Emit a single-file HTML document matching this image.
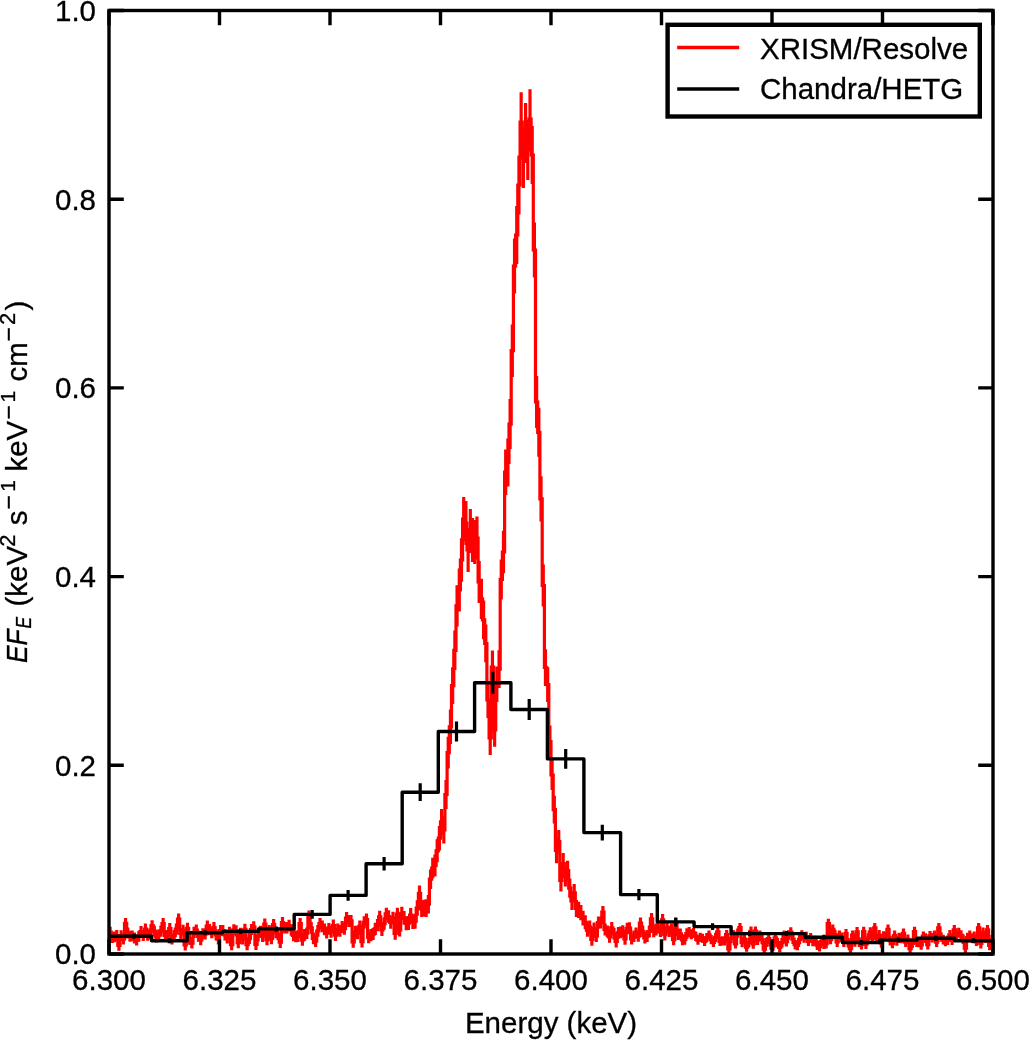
<!DOCTYPE html>
<html><head><meta charset="utf-8"><style>
html,body{margin:0;padding:0;background:#fff;width:1029px;height:1040px;overflow:hidden}
svg{display:block}
svg{font-family:"Liberation Sans",Arial,Helvetica,sans-serif;font-size:29.5px}
text{fill:#000;stroke:#000;stroke-width:0.3px}
</style></head><body>
<svg width="1029" height="1040" viewBox="0 0 1029 1040">
<defs><clipPath id="c"><rect x="109.0" y="10.5" width="884.0" height="943.5"/></clipPath></defs>
<g clip-path="url(#c)">
<polyline fill="none" stroke="#ff0000" stroke-width="3.2" stroke-linejoin="miter" points="104.6,923.6 106.8,923.6 106.8,945.3 109.0,945.3 109.0,932.2 111.2,932.2 111.2,937.5 113.4,937.5 113.4,936.9 115.6,936.9 115.6,935.6 117.8,935.6 117.8,945.3 120.0,945.3 120.0,935.6 122.3,935.6 122.3,939.1 124.5,939.1 124.5,923.4 126.7,923.4 126.7,933.1 128.9,933.1 128.9,936.2 131.1,936.2 131.1,935.8 133.3,935.8 133.3,937.9 135.5,937.9 135.5,940.0 137.7,940.0 137.7,936.4 139.9,936.4 139.9,931.6 142.1,931.6 142.1,935.5 144.4,935.5 144.4,929.0 146.6,929.0 146.6,935.3 148.8,935.3 148.8,934.0 151.0,934.0 151.0,925.7 153.2,925.7 153.2,931.2 155.4,931.2 155.4,936.9 157.6,936.9 157.6,935.1 159.8,935.1 159.8,931.1 162.0,931.1 162.0,923.5 164.2,923.5 164.2,935.5 166.5,935.5 166.5,935.4 168.7,935.4 168.7,928.5 170.9,928.5 170.9,938.9 173.1,938.9 173.1,935.6 175.3,935.6 175.3,929.1 177.5,929.1 177.5,919.0 179.7,919.0 179.7,933.5 181.9,933.5 181.9,930.3 184.1,930.3 184.1,944.9 186.3,944.9 186.3,928.3 188.6,928.3 188.6,939.2 190.8,939.2 190.8,943.1 193.0,943.1 193.0,932.3 195.2,932.3 195.2,930.0 197.4,930.0 197.4,936.3 199.6,936.3 199.6,939.8 201.8,939.8 201.8,933.7 204.0,933.7 204.0,934.1 206.2,934.1 206.2,926.0 208.4,926.0 208.4,929.6 210.7,929.6 210.7,932.7 212.9,932.7 212.9,927.6 215.1,927.6 215.1,934.9 217.3,934.9 217.3,938.8 219.5,938.8 219.5,930.5 221.7,930.5 221.7,930.5 223.9,930.5 223.9,934.9 226.1,934.9 226.1,938.0 228.3,938.0 228.3,932.4 230.5,932.4 230.5,944.7 232.8,944.7 232.8,929.8 235.0,929.8 235.0,930.9 237.2,930.9 237.2,942.7 239.4,942.7 239.4,933.2 241.6,933.2 241.6,938.9 243.8,938.9 243.8,929.3 246.0,929.3 246.0,944.6 248.2,944.6 248.2,938.6 250.4,938.6 250.4,929.5 252.6,929.5 252.6,926.9 254.9,926.9 254.9,944.4 257.1,944.4 257.1,936.0 259.3,936.0 259.3,931.3 261.5,931.3 261.5,936.4 263.7,936.4 263.7,924.0 265.9,924.0 265.9,939.6 268.1,939.6 268.1,930.8 270.3,930.8 270.3,938.6 272.5,938.6 272.5,924.6 274.7,924.6 274.7,932.7 277.0,932.7 277.0,934.6 279.2,934.6 279.2,942.2 281.4,942.2 281.4,922.7 283.6,922.7 283.6,927.9 285.8,927.9 285.8,927.8 288.0,927.8 288.0,925.5 290.2,925.5 290.2,929.9 292.4,929.9 292.4,935.5 294.6,935.5 294.6,936.4 296.8,936.4 296.8,936.3 299.1,936.3 299.1,923.7 301.3,923.7 301.3,940.0 303.5,940.0 303.5,934.9 305.7,934.9 305.7,933.2 307.9,933.2 307.9,916.4 310.1,916.4 310.1,927.8 312.3,927.8 312.3,938.4 314.5,938.4 314.5,941.2 316.7,941.2 316.7,931.0 318.9,931.0 318.9,923.7 321.2,923.7 321.2,926.3 323.4,926.3 323.4,929.4 325.6,929.4 325.6,932.5 327.8,932.5 327.8,928.8 330.0,928.8 330.0,931.9 332.2,931.9 332.2,925.6 334.4,925.6 334.4,935.1 336.6,935.1 336.6,929.5 338.8,929.5 338.8,930.9 341.0,930.9 341.0,926.9 343.3,926.9 343.3,928.7 345.5,928.7 345.5,918.0 347.7,918.0 347.7,921.0 349.9,921.0 349.9,920.9 352.1,920.9 352.1,941.8 354.3,941.8 354.3,931.8 356.5,931.8 356.5,933.3 358.7,933.3 358.7,926.4 360.9,926.4 360.9,941.6 363.1,941.6 363.1,922.4 365.4,922.4 365.4,919.5 367.6,919.5 367.6,937.2 369.8,937.2 369.8,935.2 372.0,935.2 372.0,934.1 374.2,934.1 374.2,928.9 376.4,928.9 376.4,925.2 378.6,925.2 378.6,916.8 380.8,916.8 380.8,929.9 383.0,929.9 383.0,923.6 385.2,923.6 385.2,913.9 387.5,913.9 387.5,916.6 389.7,916.6 389.7,922.5 391.9,922.5 391.9,918.2 394.1,918.2 394.1,933.3 396.3,933.3 396.3,914.2 398.5,914.2 398.5,929.8 400.7,929.8 400.7,913.4 402.9,913.4 402.9,917.8 405.1,917.8 405.1,923.3 407.3,923.3 407.3,923.1 409.6,923.1 409.6,915.1 411.8,915.1 411.8,921.7 414.0,921.7 414.0,921.2 416.2,921.2 416.2,908.0 418.4,908.0 418.4,893.4 420.6,893.4 420.6,908.8 422.8,908.8 422.8,908.1 425.0,908.1 425.0,908.1 427.2,908.1 427.2,904.2 429.4,904.2 429.4,879.2 431.7,879.2 431.7,868.0 433.9,868.0 433.9,865.5 436.1,865.5 436.1,850.8 438.3,850.8 438.3,838.2 440.5,838.2 440.5,821.9 442.7,821.9 442.7,830.0 444.9,830.0 444.9,794.5 447.1,794.5 447.1,752.6 449.3,752.6 449.3,726.8 451.5,726.8 451.5,685.7 453.8,685.7 453.8,650.3 456.0,650.3 456.0,605.8 458.2,605.8 458.2,590.0 460.4,590.0 460.4,560.0 462.6,560.0 462.6,519.0 464.8,519.0 464.8,523.0 467.0,523.0 467.0,550.0 469.2,550.0 469.2,531.0 471.4,531.0 471.4,540.0 473.6,540.0 473.6,542.0 475.9,542.0 475.9,538.0 478.1,538.0 478.1,582.0 480.3,582.0 480.3,598.9 482.5,598.9 482.5,619.9 484.7,619.9 484.7,643.5 486.9,643.5 486.9,700.0 489.1,700.0 489.1,738.0 491.3,738.0 491.3,667.0 493.5,667.0 493.5,730.0 495.7,730.0 495.7,684.1 498.0,684.1 498.0,669.2 500.2,669.2 500.2,579.4 502.4,579.4 502.4,552.0 504.6,552.0 504.6,472.2 506.8,472.2 506.8,462.5 509.0,462.5 509.0,424.1 511.2,424.1 511.2,350.6 513.4,350.6 513.4,266.0 515.6,266.0 515.6,235.0 517.8,235.0 517.8,185.0 520.1,185.0 520.1,122.0 522.3,122.0 522.3,158.0 524.5,158.0 524.5,133.0 526.7,133.0 526.7,150.0 528.9,150.0 528.9,119.0 531.1,119.0 531.1,155.0 533.3,155.0 533.3,250.0 535.5,250.0 535.5,402.0 537.7,402.0 537.7,432.3 539.9,432.3 539.9,498.9 542.2,498.9 542.2,585.5 544.4,585.5 544.4,667.5 546.6,667.5 546.6,684.6 548.8,684.6 548.8,741.6 551.0,741.6 551.0,775.0 553.2,775.0 553.2,809.6 555.4,809.6 555.4,850.5 557.6,850.5 557.6,841.7 559.8,841.7 559.8,880.3 562.0,880.3 562.0,863.5 564.3,863.5 564.3,876.3 566.5,876.3 566.5,870.7 568.7,870.7 568.7,888.2 570.9,888.2 570.9,900.8 573.1,900.8 573.1,892.8 575.3,892.8 575.3,908.5 577.5,908.5 577.5,909.8 579.7,909.8 579.7,912.7 581.9,912.7 581.9,918.1 584.1,918.1 584.1,922.3 586.4,922.3 586.4,930.2 588.6,930.2 588.6,927.1 590.8,927.1 590.8,939.4 593.0,939.4 593.0,928.6 595.2,928.6 595.2,935.9 597.4,935.9 597.4,922.6 599.6,922.6 599.6,922.5 601.8,922.5 601.8,912.0 604.0,912.0 604.0,929.5 606.2,929.5 606.2,931.3 608.5,931.3 608.5,936.9 610.7,936.9 610.7,927.8 612.9,927.8 612.9,933.8 615.1,933.8 615.1,941.5 617.3,941.5 617.3,932.9 619.5,932.9 619.5,932.4 621.7,932.4 621.7,931.1 623.9,931.1 623.9,939.0 626.1,939.0 626.1,928.5 628.3,928.5 628.3,928.0 630.6,928.0 630.6,938.9 632.8,938.9 632.8,936.3 635.0,936.3 635.0,933.2 637.2,933.2 637.2,936.1 639.4,936.1 639.4,923.1 641.6,923.1 641.6,931.3 643.8,931.3 643.8,937.8 646.0,937.8 646.0,936.1 648.2,936.1 648.2,931.5 650.4,931.5 650.4,918.9 652.7,918.9 652.7,931.3 654.9,931.3 654.9,929.4 657.1,929.4 657.1,927.5 659.3,927.5 659.3,931.1 661.5,931.1 661.5,919.8 663.7,919.8 663.7,934.6 665.9,934.6 665.9,927.6 668.1,927.6 668.1,931.4 670.3,931.4 670.3,929.1 672.5,929.1 672.5,939.6 674.8,939.6 674.8,923.5 677.0,923.5 677.0,934.4 679.2,934.4 679.2,933.9 681.4,933.9 681.4,939.9 683.6,939.9 683.6,939.5 685.8,939.5 685.8,933.5 688.0,933.5 688.0,932.2 690.2,932.2 690.2,934.2 692.4,934.2 692.4,932.9 694.6,932.9 694.6,936.1 696.9,936.1 696.9,940.2 699.1,940.2 699.1,937.2 701.3,937.2 701.3,938.3 703.5,938.3 703.5,941.3 705.7,941.3 705.7,937.5 707.9,937.5 707.9,934.9 710.1,934.9 710.1,939.7 712.3,939.7 712.3,942.3 714.5,942.3 714.5,937.3 716.7,937.3 716.7,931.9 719.0,931.9 719.0,941.5 721.2,941.5 721.2,940.9 723.4,940.9 723.4,941.0 725.6,941.0 725.6,934.7 727.8,934.7 727.8,948.8 730.0,948.8 730.0,938.5 732.2,938.5 732.2,934.6 734.4,934.6 734.4,943.9 736.6,943.9 736.6,933.1 738.8,933.1 738.8,927.7 741.1,927.7 741.1,942.5 743.3,942.5 743.3,939.0 745.5,939.0 745.5,947.1 747.7,947.1 747.7,942.5 749.9,942.5 749.9,931.3 752.1,931.3 752.1,944.0 754.3,944.0 754.3,931.1 756.5,931.1 756.5,940.2 758.7,940.2 758.7,935.1 760.9,935.1 760.9,939.5 763.2,939.5 763.2,949.1 765.4,949.1 765.4,942.4 767.6,942.4 767.6,938.7 769.8,938.7 769.8,945.0 772.0,945.0 772.0,946.0 774.2,946.0 774.2,937.8 776.4,937.8 776.4,942.6 778.6,942.6 778.6,947.5 780.8,947.5 780.8,942.7 783.0,942.7 783.0,935.4 785.3,935.4 785.3,941.7 787.5,941.7 787.5,934.9 789.7,934.9 789.7,932.1 791.9,932.1 791.9,939.2 794.1,939.2 794.1,944.7 796.3,944.7 796.3,945.5 798.5,945.5 798.5,939.4 800.7,939.4 800.7,935.0 802.9,935.0 802.9,937.9 805.1,937.9 805.1,936.6 807.4,936.6 807.4,941.3 809.6,941.3 809.6,937.7 811.8,937.7 811.8,941.4 814.0,941.4 814.0,940.6 816.2,940.6 816.2,945.2 818.4,945.2 818.4,946.6 820.6,946.6 820.6,941.3 822.8,941.3 822.8,944.3 825.0,944.3 825.0,943.6 827.2,943.6 827.2,923.5 829.5,923.5 829.5,939.5 831.7,939.5 831.7,929.4 833.9,929.4 833.9,934.5 836.1,934.5 836.1,942.0 838.3,942.0 838.3,935.3 840.5,935.3 840.5,937.3 842.7,937.3 842.7,942.3 844.9,942.3 844.9,933.7 847.1,933.7 847.1,942.7 849.3,942.7 849.3,948.6 851.6,948.6 851.6,935.2 853.8,935.2 853.8,942.0 856.0,942.0 856.0,931.8 858.2,931.8 858.2,942.1 860.4,942.1 860.4,944.7 862.6,944.7 862.6,931.5 864.8,931.5 864.8,944.2 867.0,944.2 867.0,938.0 869.2,938.0 869.2,932.0 871.4,932.0 871.4,938.4 873.7,938.4 873.7,927.8 875.9,927.8 875.9,938.5 878.1,938.5 878.1,935.0 880.3,935.0 880.3,942.9 882.5,942.9 882.5,936.1 884.7,936.1 884.7,936.2 886.9,936.2 886.9,929.4 889.1,929.4 889.1,940.6 891.3,940.6 891.3,943.4 893.5,943.4 893.5,935.5 895.8,935.5 895.8,940.9 898.0,940.9 898.0,937.6 900.2,937.6 900.2,938.4 902.4,938.4 902.4,933.4 904.6,933.4 904.6,942.2 906.8,942.2 906.8,939.4 909.0,939.4 909.0,948.6 911.2,948.6 911.2,943.3 913.4,943.3 913.4,931.6 915.6,931.6 915.6,942.3 917.9,942.3 917.9,942.4 920.1,942.4 920.1,944.9 922.3,944.9 922.3,936.2 924.5,936.2 924.5,938.1 926.7,938.1 926.7,944.7 928.9,944.7 928.9,935.8 931.1,935.8 931.1,937.7 933.3,937.7 933.3,935.4 935.5,935.4 935.5,942.1 937.7,942.1 937.7,927.8 940.0,927.8 940.0,937.0 942.2,937.0 942.2,939.6 944.4,939.6 944.4,941.5 946.6,941.5 946.6,940.2 948.8,940.2 948.8,934.9 951.0,934.9 951.0,940.3 953.2,940.3 953.2,929.8 955.4,929.8 955.4,936.2 957.6,936.2 957.6,932.5 959.8,932.5 959.8,935.1 962.1,935.1 962.1,939.3 964.3,939.3 964.3,948.2 966.5,948.2 966.5,937.6 968.7,937.6 968.7,935.2 970.9,935.2 970.9,938.2 973.1,938.2 973.1,936.3 975.3,936.3 975.3,941.3 977.5,941.3 977.5,927.8 979.7,927.8 979.7,943.5 981.9,943.5 981.9,932.4 984.2,932.4 984.2,938.2 986.4,938.2 986.4,929.8 988.6,929.8 988.6,945.4 990.8,945.4 990.8,939.7 993.0,939.7 993.0,932.1 995.2,932.1 995.2,936.8 997.4,936.8"/>
<path fill="none" stroke="#ff0000" stroke-width="3.2" d="M105.68,918.2V929.0M107.89,939.9V950.8M110.10,926.7V937.6M112.31,932.1V943.0M114.52,931.4V942.3M116.73,930.1V941.0M118.94,939.8V950.7M121.15,930.2V941.1M123.36,933.6V944.5M125.57,918.0V928.9M127.78,927.6V938.5M129.99,930.8V941.7M132.20,930.4V941.3M134.41,932.5V943.4M136.62,934.6V945.5M138.83,930.9V941.8M141.04,926.1V937.1M143.25,930.0V941.0M145.46,923.5V934.4M147.67,929.8V940.7M149.88,928.6V939.5M152.09,920.2V931.2M154.30,925.7V936.6M156.51,931.4V942.4M158.72,929.6V940.6M160.93,925.6V936.6M163.14,918.0V928.9M165.35,930.1V941.0M167.56,929.9V940.9M169.77,923.0V934.0M171.98,933.4V944.4M174.19,930.1V941.1M176.40,923.6V934.6M178.61,913.5V924.5M180.82,928.0V939.0M183.03,924.8V935.8M185.24,939.4V950.4M187.45,922.8V933.8M189.66,933.7V944.7M191.87,937.6V948.6M194.08,926.8V937.9M196.29,924.5V935.5M198.50,930.8V941.8M200.71,934.3V945.3M202.92,928.2V939.2M205.13,928.6V939.6M207.34,920.5V931.5M209.55,924.1V935.2M211.76,927.2V938.2M213.97,922.1V933.1M216.18,929.3V940.4M218.39,933.3V944.4M220.60,924.9V936.0M222.81,924.9V936.0M225.02,929.3V940.4M227.23,932.4V943.5M229.44,926.8V937.9M231.65,939.2V950.3M233.86,924.2V935.3M236.07,925.3V936.4M238.28,937.1V948.2M240.49,927.7V938.8M242.70,933.3V944.5M244.91,923.8V934.9M247.12,939.1V950.2M249.33,933.0V944.1M251.54,923.9V935.1M253.75,921.3V932.5M255.96,938.9V950.0M258.17,930.4V941.6M260.38,925.7V936.9M262.59,930.8V942.1M264.80,918.4V929.6M267.01,933.9V945.2M269.22,925.1V936.4M271.43,933.0V944.3M273.64,919.0V930.3M275.85,927.0V938.3M278.06,928.9V940.3M280.27,936.5V947.9M282.48,917.0V928.4M284.69,922.2V933.6M286.90,922.1V933.5M289.11,919.8V931.2M291.32,924.2V935.7M293.53,929.8V941.3M295.74,930.6V942.2M297.95,930.5V942.1M300.16,917.9V929.5M302.37,934.2V945.8M304.58,929.1V940.7M306.79,927.4V939.1M309.00,910.6V922.3M311.21,922.0V933.7M313.42,932.6V944.3M315.63,935.3V947.0M317.84,925.1V936.8M320.05,917.9V929.6M322.26,920.4V932.2M324.47,923.5V935.3M326.68,926.6V938.4M328.89,922.9V934.7M331.10,926.0V937.8M333.31,919.6V931.5M335.52,929.1V941.0M337.73,923.5V935.4M339.94,924.9V936.8M342.15,920.9V932.9M344.36,922.8V934.7M346.57,912.1V924.0M348.78,915.0V927.0M350.99,914.9V926.9M353.20,935.8V947.8M355.41,925.8V937.8M357.62,927.3V939.3M359.83,920.4V932.4M362.04,935.6V947.6M364.25,916.3V928.4M366.46,913.5V925.6M368.67,931.2V943.3M370.88,929.1V941.3M373.09,928.0V940.1M375.30,922.8V935.0M377.51,919.1V931.3M379.72,910.7V922.9M381.93,923.8V936.0M384.14,917.4V929.7M386.35,907.7V920.1M388.56,910.3V922.8M390.77,916.3V928.8M392.98,911.8V924.5M395.19,926.9V939.7M397.40,907.7V920.7M399.61,923.2V936.4M401.82,906.7V920.1M404.03,911.0V924.6M406.24,916.5V930.2M408.45,916.1V930.1M410.66,908.0V922.3M412.87,914.4V929.1M415.08,913.7V928.8M417.29,900.3V915.8M419.50,885.4V901.3M421.71,900.6V917.0M423.92,899.7V916.5M426.13,899.3V917.0M428.34,894.9V913.4M430.55,869.4V888.9M432.76,857.7V878.2M434.97,854.6V876.4M437.18,839.3V862.2M439.39,826.0V850.5M441.60,808.9V834.9M443.81,816.3V843.6M446.02,779.9V809.0M448.23,736.7V768.4M450.44,709.6V744.1M452.65,667.3V704.1M454.86,630.6V669.9M457.07,585.2V626.5M459.28,568.6V611.4M461.49,538.2V581.8M463.70,496.9V541.1M465.91,500.9V545.1M468.12,527.9V572.1M470.33,508.9V553.1M472.54,518.0V562.0M474.75,520.1V563.9M476.96,516.4V559.6M479.17,561.1V602.9M481.38,578.7V619.1M483.59,600.4V639.3M485.80,624.6V662.3M488.01,681.9V718.1M490.22,721.0V755.0M492.43,650.5V683.5M494.64,713.2V746.8M496.85,666.4V701.9M499.06,650.2V688.1M501.27,559.4V599.5M503.48,530.7V573.3M505.69,449.5V494.9M507.90,438.6V486.5M510.11,399.1V449.1M512.32,324.4V376.9M514.53,238.5V293.6M516.74,206.0V264.0M518.95,155.4V214.6M521.16,92.2V151.8M523.37,128.1V187.9M525.58,103.0V163.0M527.79,120.1V179.9M530.00,89.2V148.8M532.21,126.0V184.0M534.42,222.6V277.4M536.63,376.1V427.9M538.84,407.7V456.8M541.05,476.3V521.5M543.26,564.6V606.4M545.47,649.2V685.9M547.68,667.3V701.9M549.89,725.4V757.7M552.10,760.0V789.9M554.31,795.8V823.5M556.52,837.8V863.2M558.73,830.0V853.4M560.94,869.1V891.4M563.15,852.9V874.1M565.36,866.0V886.5M567.57,860.7V880.6M569.78,878.6V897.7M571.99,891.6V910.0M574.20,884.0V901.5M576.41,900.1V916.9M578.62,901.8V917.9M580.83,905.0V920.3M583.04,910.8V925.4M585.25,915.3V929.2M587.46,923.7V936.8M589.67,920.6V933.5M591.88,933.1V945.7M594.09,922.4V934.8M596.30,929.7V942.0M598.51,916.6V928.7M600.72,916.5V928.4M602.93,906.0V917.9M605.14,923.6V935.5M607.35,925.4V937.2M609.56,931.0V942.8M611.77,921.9V933.6M613.98,927.9V939.6M616.19,935.7V947.4M618.40,927.1V938.7M620.61,926.6V938.2M622.82,925.3V936.9M625.03,933.2V944.7M627.24,922.8V934.2M629.45,922.3V933.7M631.66,933.2V944.6M633.87,930.6V942.0M636.08,927.5V938.8M638.29,930.4V941.7M640.50,917.4V928.7M642.71,925.6V937.0M644.92,932.1V943.6M647.13,930.3V941.9M649.34,925.6V937.3M651.55,913.0V924.8M653.76,925.4V937.3M655.97,923.4V935.4M658.18,921.5V933.4M660.39,925.2V937.0M662.60,914.0V925.7M664.81,928.9V940.4M667.02,921.9V933.4M669.23,925.7V937.1M671.44,923.4V934.8M673.65,934.0V945.2M675.86,917.9V929.1M678.07,928.8V939.9M680.28,928.4V939.4M682.49,934.5V945.3M684.70,934.2V944.8M686.91,928.3V938.7M689.12,927.1V937.3M691.33,929.3V939.2M693.54,928.0V937.7M695.75,931.4V940.9M697.96,935.5V944.8M700.17,932.7V941.7M702.38,933.7V942.8M704.59,936.8V945.9M706.80,933.0V942.1M709.01,930.4V939.5M711.22,935.1V944.2M713.43,937.7V946.9M715.64,932.8V941.9M717.85,927.3V936.4M720.06,936.9V946.1M722.27,936.3V945.5M724.48,936.4V945.6M726.69,930.1V939.3M728.90,944.1V953.4M731.11,933.9V943.2M733.32,930.0V939.3M735.53,939.2V948.5M737.74,928.5V937.8M739.95,923.0V932.3M742.16,937.9V947.2M744.37,934.3V943.7M746.58,942.4V951.8M748.79,937.9V947.2M751.00,926.6V936.0M753.21,939.3V948.7M755.42,926.5V935.8M757.63,935.5V944.9M759.84,930.4V939.8M762.05,934.8V944.2M764.26,944.4V953.8M766.47,937.7V947.1M768.68,934.0V943.5M770.89,940.3V949.8M773.10,941.2V950.7M775.31,933.1V942.6M777.52,937.9V947.3M779.73,942.8V952.3M781.94,938.0V947.5M784.15,930.6V940.1M786.36,936.9V946.4M788.57,930.2V939.7M790.78,927.3V936.9M792.99,934.4V943.9M795.20,939.9V949.5M797.41,940.7V950.3M799.62,934.6V944.2M801.83,930.2V939.8M804.04,933.1V942.7M806.25,931.8V941.3M808.46,936.5V946.1M810.67,932.9V942.5M812.88,936.6V946.2M815.09,935.8V945.4M817.30,940.4V950.1M819.51,941.8V951.4M821.72,936.5V946.1M823.93,939.5V949.1M826.14,938.8V948.4M828.35,918.7V928.3M830.56,934.7V944.3M832.77,924.6V934.2M834.98,929.7V939.4M837.19,937.2V946.9M839.40,930.4V940.1M841.61,932.5V942.1M843.82,937.5V947.1M846.03,928.9V938.5M848.24,937.9V947.5M850.45,943.8V953.4M852.66,930.4V940.0M854.87,937.2V946.8M857.08,927.0V936.7M859.29,937.3V946.9M861.50,939.9V949.5M863.71,926.7V936.4M865.92,939.4V949.0M868.13,933.2V942.8M870.34,927.2V936.8M872.55,933.6V943.3M874.76,923.0V932.6M876.97,933.7V943.3M879.18,930.1V939.8M881.39,938.1V947.7M883.60,931.2V940.9M885.81,931.4V941.0M888.02,924.6V934.2M890.23,935.8V945.4M892.44,938.6V948.2M894.65,930.6V940.3M896.86,936.1V945.7M899.07,932.8V942.4M901.28,933.5V943.2M903.49,928.6V938.2M905.70,937.3V947.0M907.91,934.6V944.3M910.12,943.8V953.4M912.33,938.5V948.1M914.54,926.8V936.4M916.75,937.5V947.1M918.96,937.6V947.2M921.17,940.0V949.7M923.38,931.4V941.0M925.59,933.3V943.0M927.80,939.9V949.5M930.01,931.0V940.6M932.22,932.9V942.6M934.43,930.6V940.2M936.64,937.3V946.9M938.85,923.0V932.6M941.06,932.2V941.8M943.27,934.7V944.4M945.48,936.7V946.3M947.69,935.4V945.0M949.90,930.1V939.7M952.11,935.5V945.1M954.32,925.0V934.6M956.53,931.4V941.0M958.74,927.7V937.3M960.95,930.3V939.9M963.16,934.5V944.1M965.37,943.4V953.0M967.58,932.7V942.4M969.79,930.4V940.0M972.00,933.4V943.0M974.21,931.5V941.1M976.42,936.5V946.1M978.63,923.0V932.6M980.84,938.7V948.4M983.05,927.6V937.3M985.26,933.4V943.1M987.47,925.0V934.6M989.68,940.6V950.2M991.89,934.9V944.6M994.10,927.2V936.9M996.31,932.0V941.6"/>
<path fill="none" stroke="#000" stroke-width="3.4" stroke-linejoin="round" d="M107.0,936.2L116.1,936.2L116.1,936.2L151.6,936.2L151.6,940.8L187.1,940.8L187.1,932.7L222.7,932.7L222.7,931.4L258.4,931.4L258.4,928.9L294.2,928.9L294.2,914.4L330.1,914.4L330.1,895.4L366.1,895.4L366.1,863.7L402.2,863.7L402.2,792.2L438.3,792.2L438.3,731.5L474.6,731.5L474.6,682.8L510.9,682.8L510.9,709.5L547.4,709.5L547.4,758.9L583.9,758.9L583.9,832.6L620.6,832.6L620.6,894.6L657.3,894.6L657.3,921.9L694.1,921.9L694.1,926.6L731.1,926.6L731.1,933.6L768.1,933.6L768.1,933.6L805.2,933.6L805.2,937.3L842.4,937.3L842.4,942.5L879.7,942.5L879.7,940.1L917.1,940.1L917.1,938.3L954.6,938.3L954.6,940.8L992.2,940.8L992.2,940.8L995.0,940.8"/>
<path fill="none" stroke="#000" stroke-width="3.2" d="M312.2,910.1V918.7M348.1,890.1V900.7M384.1,857.0V870.4M420.2,783.3V801.1M456.5,721.4V741.6M492.8,671.8V693.8M529.2,699.0V720.0M565.7,749.0V768.8M602.3,824.8V840.4M638.9,888.9V900.3M675.7,917.4V926.4M712.6,923.3V929.9M749.6,931.1V936.1M786.6,931.1V936.1M823.8,934.8V939.8M861.1,940.0V945.0M898.4,937.6V942.6M935.9,935.8V940.8M973.4,938.3V943.3M133.8,933.7V938.7M169.3,938.3V943.3M204.9,930.2V935.2M240.6,928.9V933.9M276.3,926.4V931.4"/>
</g>
<rect x="109.0" y="10.5" width="884.0" height="943.5" fill="none" stroke="#000" stroke-width="3.4"/>
<path fill="none" stroke="#000" stroke-width="3.4" d="M109.00,954.00V939.20M109.00,10.50V25.30M219.50,954.00V939.20M219.50,10.50V25.30M330.00,954.00V939.20M330.00,10.50V25.30M440.50,954.00V939.20M440.50,10.50V25.30M551.00,954.00V939.20M551.00,10.50V25.30M661.50,954.00V939.20M661.50,10.50V25.30M772.00,954.00V939.20M772.00,10.50V25.30M882.50,954.00V939.20M882.50,10.50V25.30M993.00,954.00V939.20M993.00,10.50V25.30M109.00,954.00H123.80M993.00,954.00H978.20M109.00,765.30H123.80M993.00,765.30H978.20M109.00,576.60H123.80M993.00,576.60H978.20M109.00,387.90H123.80M993.00,387.90H978.20M109.00,199.20H123.80M993.00,199.20H978.20M109.00,10.50H123.80M993.00,10.50H978.20"/>
<text x="109.0" y="990" text-anchor="middle">6.300</text><text x="219.5" y="990" text-anchor="middle">6.325</text><text x="330.0" y="990" text-anchor="middle">6.350</text><text x="440.5" y="990" text-anchor="middle">6.375</text><text x="551.0" y="990" text-anchor="middle">6.400</text><text x="661.5" y="990" text-anchor="middle">6.425</text><text x="772.0" y="990" text-anchor="middle">6.450</text><text x="882.5" y="990" text-anchor="middle">6.475</text><text x="993.0" y="990" text-anchor="middle">6.500</text>
<text x="96" y="964.3" text-anchor="end">0.0</text><text x="96" y="775.6" text-anchor="end">0.2</text><text x="96" y="586.9" text-anchor="end">0.4</text><text x="96" y="398.2" text-anchor="end">0.6</text><text x="96" y="209.5" text-anchor="end">0.8</text><text x="96" y="20.8" text-anchor="end">1.0</text>
<text x="551" y="1032.5" text-anchor="middle">Energy (keV)</text>
<g transform="translate(0,662.3) rotate(-90)"><text x="-0.8" y="27.0" font-style="italic" textLength="33.6" lengthAdjust="spacingAndGlyphs">EF</text><text x="33.9" y="31.2" font-size="22" font-style="italic" textLength="11.5" lengthAdjust="spacingAndGlyphs">E</text><text x="55.8" y="27.3">(keV</text><text x="115.5" y="15.0" font-size="22">2</text><text x="137.0" y="27.3">s</text><text x="152.8" y="17.2" font-size="25">−</text><text x="170.5" y="15.0" font-size="21">1</text><text x="190.7" y="27.3">keV</text><text x="242.8" y="17.2" font-size="25">−</text><text x="259.7" y="15.0" font-size="21">1</text><text x="280.9" y="27.3">cm</text><text x="320.9" y="17.2" font-size="25">−</text><text x="337.4" y="15.0" font-size="22">2</text><text x="351.9" y="27.3">)</text></g>
<rect x="667.6" y="24.8" width="312.2" height="91.7" fill="#fff" stroke="#000" stroke-width="4.4"/>
<path d="M677.2,47.5H739.2" stroke="#ff0000" stroke-width="3.3"/>
<path d="M677.2,89H739.2" stroke="#000" stroke-width="3.3"/>
<text x="760" y="58.5">XRISM/Resolve</text>
<text x="760" y="99.2">Chandra/HETG</text>
</svg>
</body></html>
